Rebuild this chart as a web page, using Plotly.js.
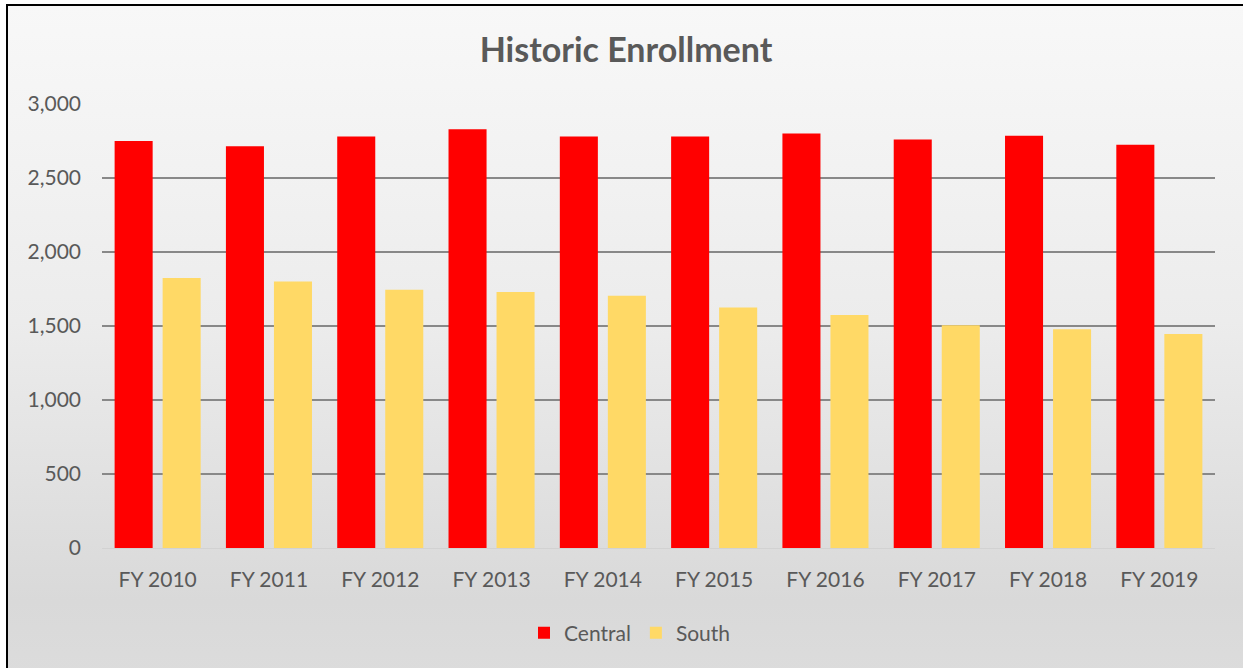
<!DOCTYPE html>
<html>
<head>
<meta charset="utf-8">
<script src="https://cdn.plot.ly/plotly-3.0.1.min.js"></script>
<style>
  html, body { margin: 0; padding: 0; background: #ffffff; overflow: hidden; }
  #wrap { position: relative; width: 1243px; height: 668px; }
  #bg { position: absolute; left: 6px; top: 4px; width: 1300px; height: 700px;
        border-left: 2px solid #000; border-top: 2px solid #000;
        background: linear-gradient(to bottom, #f8f8f8 0%, #ececec 45%, #d9d9d9 85%, #dddddd 100%); }
  #chart { position: absolute; left: 0; top: 0; width: 1243px; height: 668px; }
</style>
</head>
<body>
<div id="wrap">
  <div id="bg"></div>
  <div id="chart"></div>
</div>
<script>
const categories = ["FY 2010", "FY 2011", "FY 2012", "FY 2013", "FY 2014", "FY 2015", "FY 2016", "FY 2017", "FY 2018", "FY 2019"];
const centralValues = [2750, 2715, 2780, 2830, 2780, 2780, 2800, 2760, 2785, 2725];
const southValues = [1825, 1800, 1745, 1730, 1705, 1625, 1575, 1505, 1478, 1446];
const yTickVals = [0, 500, 1000, 1500, 2000, 2500, 3000];

const FONT = "Lato, 'Open Sans', sans-serif";
const GREY = "#595959";

const traces = [
  { type: "bar", name: "Central", x: categories, y: centralValues,
    marker: { color: "#FF0000", line: { width: 0 } }, hoverinfo: "x+y+name" },
  { type: "bar", name: "South", x: categories, y: southValues,
    marker: { color: "#FFD966", line: { width: 0 } }, hoverinfo: "x+y+name" }
];

const layout = {
  width: 1243, height: 668,
  paper_bgcolor: "rgba(0,0,0,0)",
  plot_bgcolor: "rgba(0,0,0,0)",
  margin: { l: 102, r: 28, t: 104, b: 120, pad: 0 },
  barmode: "group",
  bargap: 0.137,
  bargroupgap: 0.208,
  title: {
    text: "<b>Historic Enrollment</b>",
    font: { family: FONT, size: 34, color: GREY },
    x: 626 / 1243, xanchor: "center", xref: "container",
    y: 1 - 50 / 668, yanchor: "middle"
  },
  xaxis: {
    type: "category",
    tickfont: { family: FONT, size: 21, color: GREY },
    showgrid: false, showline: false, zeroline: false,
    ticks: "", ticklabelstandoff: 17
  },
  yaxis: {
    range: [0, 3000],
    tickvals: yTickVals,
    tickformat: ",d",
    tickfont: { family: FONT, size: 21, color: GREY },
    showgrid: true, gridcolor: "#888888", gridwidth: 2,
    zeroline: true, zerolinecolor: "#d2d2d2", zerolinewidth: 1,
    showline: false, ticks: "", ticklabelstandoff: 20
  },
  legend: {
    orientation: "h",
    x: (630 - 102) / 1113, xanchor: "center",
    y: (548 - 633) / 444, yanchor: "middle",
    font: { family: FONT, size: 21, color: GREY },
    bgcolor: "rgba(0,0,0,0)",
    itemwidth: 30,
    traceorder: "normal"
  },
  showlegend: true
};

Plotly.newPlot("chart", traces, layout, { displayModeBar: false, staticPlot: true });
</script>
</body>
</html>
